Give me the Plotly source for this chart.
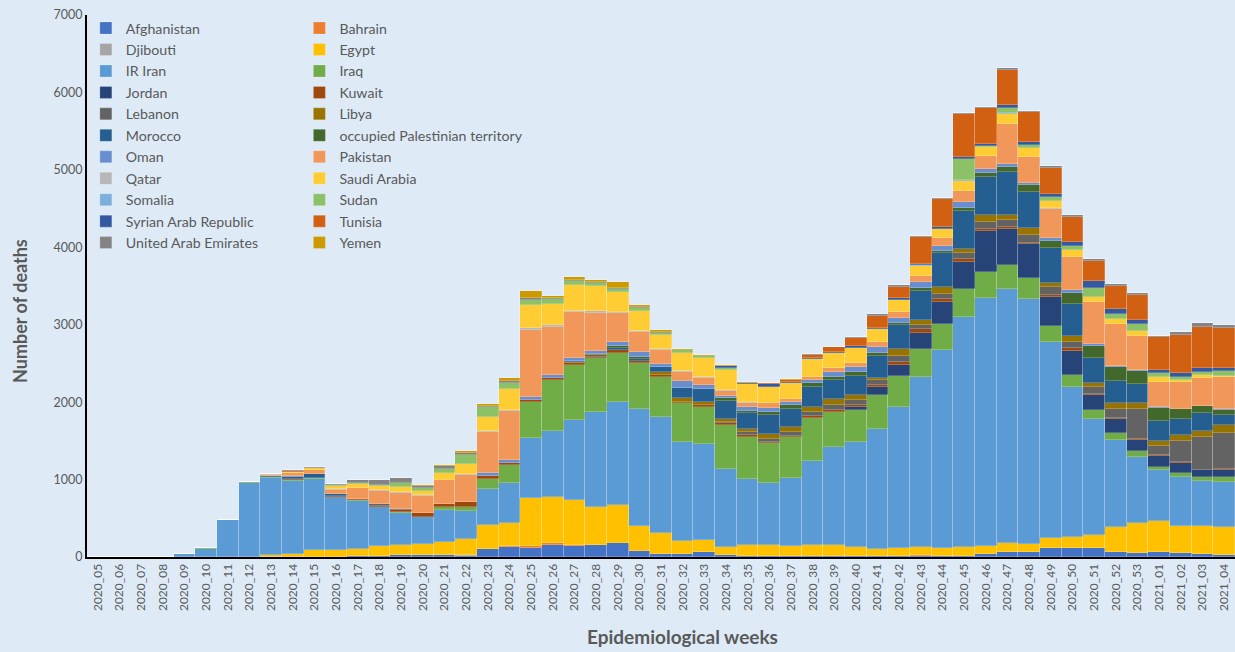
import plotly.graph_objects as go

weeks = [f"2020_{w:02d}" for w in range(5, 54)] + [f"2021_{w:02d}" for w in range(1, 5)]

afghanistan = [0]*12 + [8,12,25,30,30,15,100,135,121,151, 142,151,175,82,35,35,69,20,15,15,
                        10,10,10,10,10,10,10,10,15,40, 60,60,112,112,116,68,50,60,52,40, 20]
bahrain = [0]*18 + [5,7,20,26,17,10,10] + [0]*13 + [10] + [0]*14
djibouti = [0]*17 + [5] + [0]*35
egypt = [0]*8 + [20,35,90,90,100,130,134,138,164,217] + [304,293,620,598,577,490,483,323,279,172] \
        + [151,113,140,140,136,145,145,123,93,102] + [113,112,110,102,117,108,129,142,164,315] \
        + [387,400,353,362,365]
iran = [0,0,0,0,40,105,472,955,995,950] + [920,680,620,500,413,344,413,361,469,516] \
       + [771,856,1033,1223,1339,1502,1498,1282,1235,1008] + [856,796,870,1089,1270,1348,1546,1829,2188,2549] \
       + [2978,3207,3280,3160,2532,1937,1502,1128,861,664] + [625,577,590]
iraq = [0,0,0,0,0,5,12,10,15,12] + [10,8,5,5,5,8,35,43,129,237] + [465,654,710,693,633,603,517,504,487,564] \
       + [543,525,530,547,452,418,443,396,366,336] + [354,336,314,271,211,159,111,86,65,43] + [56,56,56]
jordan = [0]*35 + [43,99,142,211,280,357,525,461,443,379,314,202,181,151,142,129,86,95]
kuwait = [0]*9 + [8] + [5,5,12,15,30,52,43,65,43,30] + [30,22,22,13,30,17,17,13,20,20] \
         + [20,10,15,30,20,22,30,43,52,43] + [30,22,26,17,22,31,13,13,10,10] + [10,8,8]
lebanon = [0]*13 + [20,13,0,5] + [0]*5 + [10,30] + [0]*5 + [15,43,35,56,47,65,65,65,73,47] \
          + [73,77,99,95,99,99,86,86,116,387] + [116,267,417,465]
libya = [0]*22 + [8,13,0,0] + [43,52,43,43,30,65,65,73,73,60] + [30,86,65,78,52,86,65,86,52,73] \
        + [52,77,73,69,86,86,108]
morocco = [0]*8 + [20,30,50,25,10] + [0]*9 + [10,0,26,26,65,129,159,237] \
          + [215,250,224,250,250,254,280,314,379,439] + [499,495,560,473,452,413,323,292,250,258] + [207,228,129]
opt = [0]*24 + [30,26,0,0,0] + [30,26,39,52,52,43,52,43,22,39] + [35,30,52,65,86,90,146,159,181,172] \
      + [160,121,86,65]
oman = [0]*9 + [10,0,8] + [0]*5 + [8,39,35,35,43,35,39,52,73,43] + [90,56,30,52,52,47,43,65,56,77] \
       + [65,73,65,86,43,35,30,43,35,26] + [10,10,10,10,10,10]
pakistan = [0]*8 + [10,35,45,55,130,172,207,215,301,345] + [521,637,870,624,594,487,370,254,172,112] \
           + [86,69,52,60,39,43,43,60,60,86] + [82,95,142,172,517,327,378,430,533,538] + [439,331,344,358,409]
qatar = [0]*8 + [10,0,5,8,8,10,10,10,8,13] + [13,8,22,17,17,22,17,17,17,17] + [13,8,8,0,0,0,0,0,0,0] \
        + [0]*6 + [10] + [0]*8
saudi = [0]*9 + [20] + [20,35,52,47,70,60,86,129,190,268] + [297,275,344,323,258,254,176,233,245,258] \
        + [228,215,198,224,202,194,172,151,125,120] + [129,112,129,116,86,86,77,73,69,56] + [26,43,15]
somalia = [0]*38 + [5,5,5,5,5,5,5] + [0]*8
sudan = [0]*11 + [10,12,25,43,30,52,116,120,77] + [69,60,45,43,35,35,30,35,30,26] + [0]*10 \
        + [276,10,73,35,52,52,108,56,86,52] + [43,26,65]
syria = [0]*29 + [20,20,35,20,15,15,15,15,20,20,20] + [26,26,30,43,30,56,99,73,52,47] + [43,56,43]
tunisia = [0]*9 + [10] + [0]*21 + [8,22,39,56,108,146,151,344,365] + [555,461,452,387,344,325,258,292,323,418] \
          + [490,538,517]
uae = [0]*7 + [5,0,10] + [15,25,40,55,65,35,38,22,20,26] + [26,17,13,17,17,17,8,0,0,0] \
      + [0,0,0,10,8,8,35,20,20,10] + [15,20,30,20,25,20,22,22,22,20] + [40,50,40]
yemen = [0]*15 + [5,17,30,19,43] + [90,30,43,26,77,30,34,17,20,20] + [15,8,20] + [0]*20

countries = ["Afghanistan", "Bahrain", "Djibouti", "Egypt", "IR Iran", "Iraq", "Jordan", "Kuwait",
             "Lebanon", "Libya", "Morocco", "occupied Palestinian territory", "Oman", "Pakistan",
             "Qatar", "Saudi Arabia", "Somalia", "Sudan", "Syrian Arab Republic", "Tunisia",
             "United Arab Emirates", "Yemen"]
series = [afghanistan, bahrain, djibouti, egypt, iran, iraq, jordan, kuwait, lebanon, libya, morocco,
          opt, oman, pakistan, qatar, saudi, somalia, sudan, syria, tunisia, uae, yemen]
colors = ["#4472C4", "#ED7D31", "#A5A5A5", "#FFC000", "#5B9BD5", "#70AD47", "#264478", "#9E480E",
          "#636363", "#997300", "#255E91", "#43682B", "#698ED0", "#F1975A", "#B7B7B7", "#FFCD33",
          "#7CAFDD", "#8CC168", "#335AA1", "#D26012", "#848484", "#CC9A00"]

fig = go.Figure()
for i, (name, vals, col) in enumerate(zip(countries, series, colors)):
    fig.add_trace(go.Bar(
        x=weeks, y=vals, name=name,
        marker=dict(color=col, line=dict(color="rgba(255,255,255,0.3)", width=0.7)),
        legend="legend" if i % 2 == 0 else "legend2",
    ))

legend_common = dict(
    bgcolor="rgba(0,0,0,0)", traceorder="normal", orientation="v",
    font=dict(family="Lato", size=14.2, color="#595959"),
    yanchor="top", y=1.005, xanchor="left", itemclick=False, tracegroupgap=0,
)
fig.update_layout(
    barmode="stack", bargap=0,
    width=1235, height=652,
    margin=dict(l=87, r=0, t=15, b=95),
    paper_bgcolor="#DEEBF7", plot_bgcolor="#DEEBF7",
    font=dict(family="Lato", color="#595959"),
    legend=dict(**legend_common, x=-0.001),
    legend2=dict(**legend_common, x=0.185),
    showlegend=True,
    xaxis=dict(type="category", range=[-0.5, 52.5], tickangle=-90, showline=True,
               linecolor="black", linewidth=2, ticks="", showgrid=False,
               tickfont=dict(family="Lato", size=12, color="#595959")),
    yaxis=dict(range=[0, 7000], dtick=1000, showline=True, linecolor="black", linewidth=2,
               ticks="", showgrid=False, zeroline=False, ticklabeloverflow="allow",
               tickfont=dict(family="Lato", size=12.5, color="#595959")),
    annotations=[
        dict(text="<b>Number of deaths</b>", textangle=-90, xref="paper", yref="paper",
             x=-0.0584, y=0.454, xanchor="center", yanchor="middle", showarrow=False,
             font=dict(family="Lato", size=18, color="#595959")),
        dict(text="<b>Epidemiological weeks</b>", xref="paper", yref="paper",
             x=0.519, y=-0.1476, xanchor="center", yanchor="middle", showarrow=False,
             font=dict(family="Lato", size=19, color="#595959")),
    ],
)

fig.write_html(
    "out.html",
    config={"displayModeBar": False},
    post_script="document.body.style.margin='0px';document.body.style.overflow='hidden';",
)
